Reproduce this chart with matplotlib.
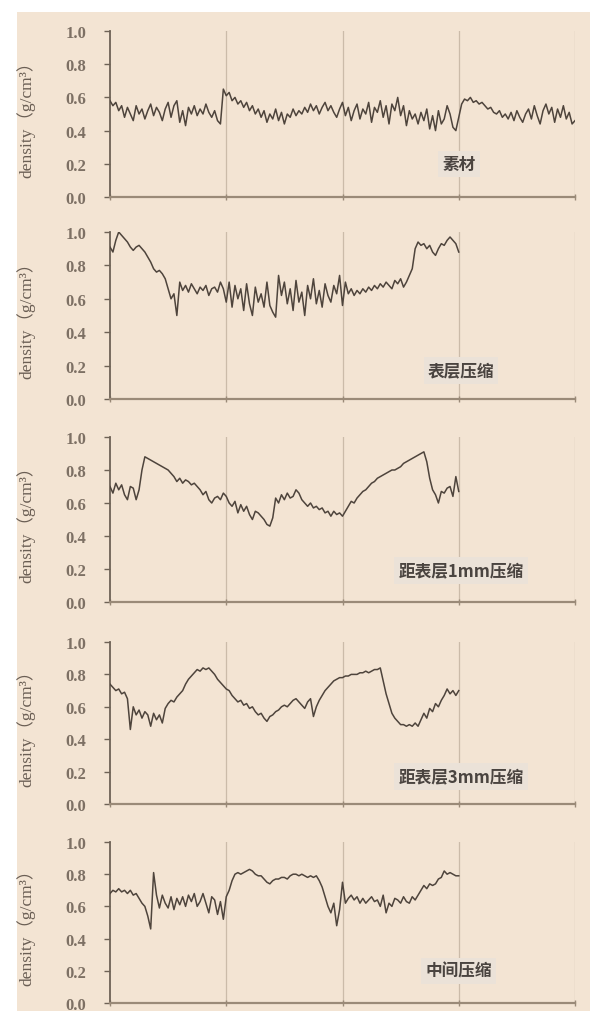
import matplotlib
matplotlib.use("Agg")
import matplotlib.pyplot as plt
import numpy as np
from matplotlib.patches import Rectangle

# 密度剖面数据（按 0.025 步长从图上读出）
STEP = 0.025

d_raw = [
    0.58, 0.55, 0.57, 0.52, 0.55, 0.48, 0.54, 0.50, 0.46, 0.55, 0.50, 0.53,
    0.47, 0.52, 0.56, 0.49, 0.54, 0.51, 0.46, 0.53, 0.57, 0.48, 0.55, 0.58,
    0.45, 0.52, 0.43, 0.54, 0.50, 0.55, 0.49, 0.53, 0.50, 0.56, 0.51, 0.48,
    0.52, 0.46, 0.44, 0.65, 0.61, 0.63, 0.58, 0.60, 0.56, 0.58, 0.54, 0.57,
    0.52, 0.55, 0.50, 0.53, 0.48, 0.52, 0.45, 0.50, 0.47, 0.53, 0.46, 0.51,
    0.44, 0.50, 0.48, 0.53, 0.49, 0.52, 0.50, 0.54, 0.51, 0.56, 0.52, 0.55,
    0.50, 0.54, 0.57, 0.52, 0.55, 0.51, 0.48, 0.53, 0.57, 0.49, 0.54, 0.46,
    0.52, 0.56, 0.47, 0.53, 0.50, 0.57, 0.45, 0.54, 0.51, 0.58, 0.48, 0.55,
    0.44, 0.56, 0.52, 0.60, 0.49, 0.55, 0.43, 0.52, 0.47, 0.50, 0.44, 0.51,
    0.46, 0.53, 0.41, 0.49, 0.40, 0.52, 0.44, 0.47, 0.55, 0.50, 0.42, 0.40,
    0.48, 0.56, 0.59, 0.58, 0.60, 0.57, 0.58, 0.56, 0.57, 0.55, 0.53, 0.54,
    0.51, 0.50, 0.52, 0.48, 0.50, 0.47, 0.51, 0.46, 0.52, 0.48, 0.45, 0.50,
    0.53, 0.47, 0.55, 0.49, 0.44, 0.52, 0.56, 0.50, 0.54, 0.45, 0.53, 0.48,
    0.55, 0.47, 0.51, 0.44, 0.46,
]

d_surface = [
    0.91, 0.88, 0.95, 1.00, 0.98, 0.96, 0.94, 0.91, 0.89, 0.91, 0.92, 0.90,
    0.88, 0.85, 0.82, 0.78, 0.76, 0.77, 0.75, 0.72, 0.66, 0.60, 0.63, 0.50,
    0.70, 0.65, 0.68, 0.64, 0.69, 0.66, 0.63, 0.67, 0.65, 0.68, 0.62, 0.66,
    0.67, 0.64, 0.70, 0.66, 0.58, 0.70, 0.55, 0.68, 0.60, 0.66, 0.53, 0.69,
    0.57, 0.50, 0.67, 0.58, 0.63, 0.55, 0.70, 0.56, 0.52, 0.49, 0.74, 0.62,
    0.70, 0.57, 0.66, 0.53, 0.71, 0.58, 0.64, 0.50, 0.68, 0.60, 0.72, 0.57,
    0.65, 0.55, 0.69, 0.62, 0.58, 0.68, 0.63, 0.74, 0.56, 0.70, 0.63, 0.66,
    0.62, 0.65, 0.63, 0.66, 0.64, 0.67, 0.65, 0.68, 0.66, 0.69, 0.67, 0.70,
    0.68, 0.66, 0.71, 0.69, 0.72, 0.67, 0.70, 0.74, 0.78, 0.90, 0.94, 0.92,
    0.93, 0.90, 0.92, 0.88, 0.86, 0.90, 0.93, 0.92, 0.95, 0.97, 0.95, 0.93,
    0.88,
]

d_1mm = [
    0.70, 0.66, 0.72, 0.68, 0.71, 0.65, 0.62, 0.70, 0.69, 0.62, 0.68, 0.80,
    0.88, 0.87, 0.86, 0.85, 0.84, 0.83, 0.82, 0.81, 0.80, 0.78, 0.76, 0.73,
    0.75, 0.72, 0.74, 0.73, 0.71, 0.72, 0.70, 0.68, 0.65, 0.67, 0.62, 0.60,
    0.63, 0.64, 0.62, 0.66, 0.64, 0.60, 0.58, 0.61, 0.54, 0.59, 0.55, 0.58,
    0.53, 0.50, 0.55, 0.54, 0.52, 0.50, 0.47, 0.46, 0.51, 0.63, 0.60, 0.65,
    0.62, 0.66, 0.63, 0.64, 0.68, 0.66, 0.62, 0.60, 0.58, 0.60, 0.57, 0.58,
    0.56, 0.57, 0.54, 0.55, 0.52, 0.55, 0.53, 0.54, 0.52, 0.55, 0.58, 0.61,
    0.60, 0.63, 0.65, 0.67, 0.68, 0.70, 0.72, 0.73, 0.75, 0.76, 0.77, 0.78,
    0.79, 0.80, 0.80, 0.81, 0.82, 0.84, 0.85, 0.86, 0.87, 0.88, 0.89, 0.90,
    0.91, 0.85, 0.75, 0.68, 0.65, 0.60, 0.67, 0.66, 0.69, 0.70, 0.64, 0.76,
    0.67,
]

d_3mm = [
    0.74, 0.72, 0.70, 0.71, 0.68, 0.69, 0.65, 0.46, 0.60, 0.55, 0.58, 0.53,
    0.57, 0.55, 0.48, 0.56, 0.52, 0.55, 0.50, 0.59, 0.62, 0.64, 0.63, 0.66,
    0.68, 0.70, 0.74, 0.77, 0.79, 0.81, 0.83, 0.82, 0.84, 0.83, 0.84, 0.82,
    0.80, 0.77, 0.75, 0.73, 0.71, 0.70, 0.67, 0.65, 0.63, 0.64, 0.61, 0.62,
    0.59, 0.60, 0.57, 0.55, 0.56, 0.53, 0.51, 0.54, 0.55, 0.57, 0.58, 0.60,
    0.61, 0.60, 0.62, 0.64, 0.65, 0.63, 0.61, 0.59, 0.63, 0.65, 0.54, 0.60,
    0.64, 0.67, 0.70, 0.72, 0.74, 0.76, 0.77, 0.78, 0.78, 0.79, 0.79, 0.80,
    0.80, 0.80, 0.81, 0.81, 0.82, 0.81, 0.82, 0.83, 0.83, 0.84, 0.76, 0.68,
    0.62, 0.56, 0.53, 0.51, 0.49, 0.49, 0.48, 0.49, 0.48, 0.50, 0.48, 0.52,
    0.56, 0.53, 0.59, 0.57, 0.62, 0.60, 0.64, 0.67, 0.71, 0.68, 0.70, 0.67,
    0.70,
]

d_middle = [
    0.68, 0.70, 0.69, 0.71, 0.69, 0.70, 0.68, 0.70, 0.67, 0.68, 0.65, 0.62,
    0.60, 0.54, 0.46, 0.81, 0.67, 0.59, 0.67, 0.62, 0.59, 0.66, 0.58, 0.65,
    0.61, 0.66, 0.60, 0.67, 0.63, 0.68, 0.60, 0.63, 0.68, 0.62, 0.56, 0.66,
    0.64, 0.55, 0.63, 0.52, 0.66, 0.70, 0.76, 0.80, 0.81, 0.80, 0.81, 0.82,
    0.83, 0.82, 0.80, 0.79, 0.79, 0.77, 0.75, 0.74, 0.76, 0.77, 0.77, 0.78,
    0.78, 0.77, 0.79, 0.80, 0.80, 0.79, 0.80, 0.79, 0.78, 0.79, 0.78, 0.79,
    0.76, 0.72, 0.66, 0.60, 0.56, 0.62, 0.48, 0.58, 0.75, 0.62, 0.65, 0.67,
    0.64, 0.66, 0.62, 0.65, 0.62, 0.64, 0.66, 0.63, 0.64, 0.60, 0.67, 0.56,
    0.62, 0.60, 0.65, 0.64, 0.62, 0.66, 0.63, 0.62, 0.66, 0.64, 0.67, 0.70,
    0.73, 0.71, 0.74, 0.73, 0.74, 0.77, 0.78, 0.82, 0.80, 0.81, 0.80, 0.79,
    0.79,
]

series = [d_raw, d_surface, d_1mm, d_3mm, d_middle]
labels = ["素材", "表层压缩", "距表层1mm压缩", "距表层3mm压缩", "中间压缩"]
y_ticks = [0.0, 0.2, 0.4, 0.6, 0.8, 1.0]
x_grid = [1, 2, 3, 4]

BG = "#F3E4D3"
LINE = "#4e443c"
AXIS = "#6e6256"
GRID = "#cbbba9"
TXT = "#7d7064"

# 各面板在画布中的位置（像素：上沿, 下沿）
panel_px = [(32, 198), (233, 400), (438, 603), (643, 805), (843, 1004)]
label_pos = [(0.75, 0.20), (0.755, 0.17), (0.755, 0.19), (0.755, 0.17), (0.75, 0.2)]

W, H = 600, 1012
fig = plt.figure(figsize=(W / 100, H / 100), dpi=100, facecolor="white")
fig.patches.append(Rectangle((17 / W, 0), (590 - 17) / W, 1 - 13 / H,
                             transform=fig.transFigure, facecolor=BG,
                             edgecolor="none", zorder=-5))

left, right = 110, 575
for data, lab, (top, bot), (lx, ly) in zip(series, labels, panel_px, label_pos):
    ax = fig.add_axes([left / W, 1 - bot / H, (right - left) / W, (bot - top) / H])
    ax.patch.set_alpha(0)
    x = np.arange(len(data)) * STEP
    for g in x_grid:
        ax.axvline(g, color=GRID, lw=0.9, zorder=1)
    ax.plot(x, data, color=LINE, lw=1.1, zorder=3)
    ax.set_xlim(0, 4)
    ax.set_ylim(0, 1.0)
    ax.set_yticks(y_ticks)
    ax.set_yticklabels([f"{v:.1f}" for v in y_ticks])
    ax.set_xticks([0] + x_grid)
    ax.set_xticklabels([])
    for s in ("top", "right"):
        ax.spines[s].set_visible(False)
    ax.spines["left"].set_color(AXIS)
    ax.spines["left"].set_linewidth(1.3)
    ax.spines["bottom"].set_color("#9a8a78")
    ax.spines["bottom"].set_linewidth(1.6)
    ax.tick_params(axis="y", direction="out", length=4, width=1, color=AXIS,
                   pad=13, labelsize=12, labelcolor=TXT)
    ax.tick_params(axis="x", direction="inout", length=5, width=1, color="#9a8a78")
    for t in ax.get_yticklabels():
        t.set_family("Liberation Serif")
        t.set_fontweight("bold")
    ax.set_ylabel("density（g/cm³）", family=["Liberation Serif", "Noto Sans CJK SC"],
                  fontsize=12.5, color="#6a5e54")
    ax.yaxis.set_label_coords(-0.16, 0.5)
    ax.text(lx, ly, lab, transform=ax.transAxes, ha="center", va="center",
            family=["Noto Sans CJK SC", "Liberation Serif"], fontsize=12,
            fontweight="bold", color="#4a4440",
            bbox=dict(boxstyle="square,pad=0.25", facecolor="#ebe2d8",
                      edgecolor="none"))

fig.savefig("out.png", dpi=100, facecolor="white")
